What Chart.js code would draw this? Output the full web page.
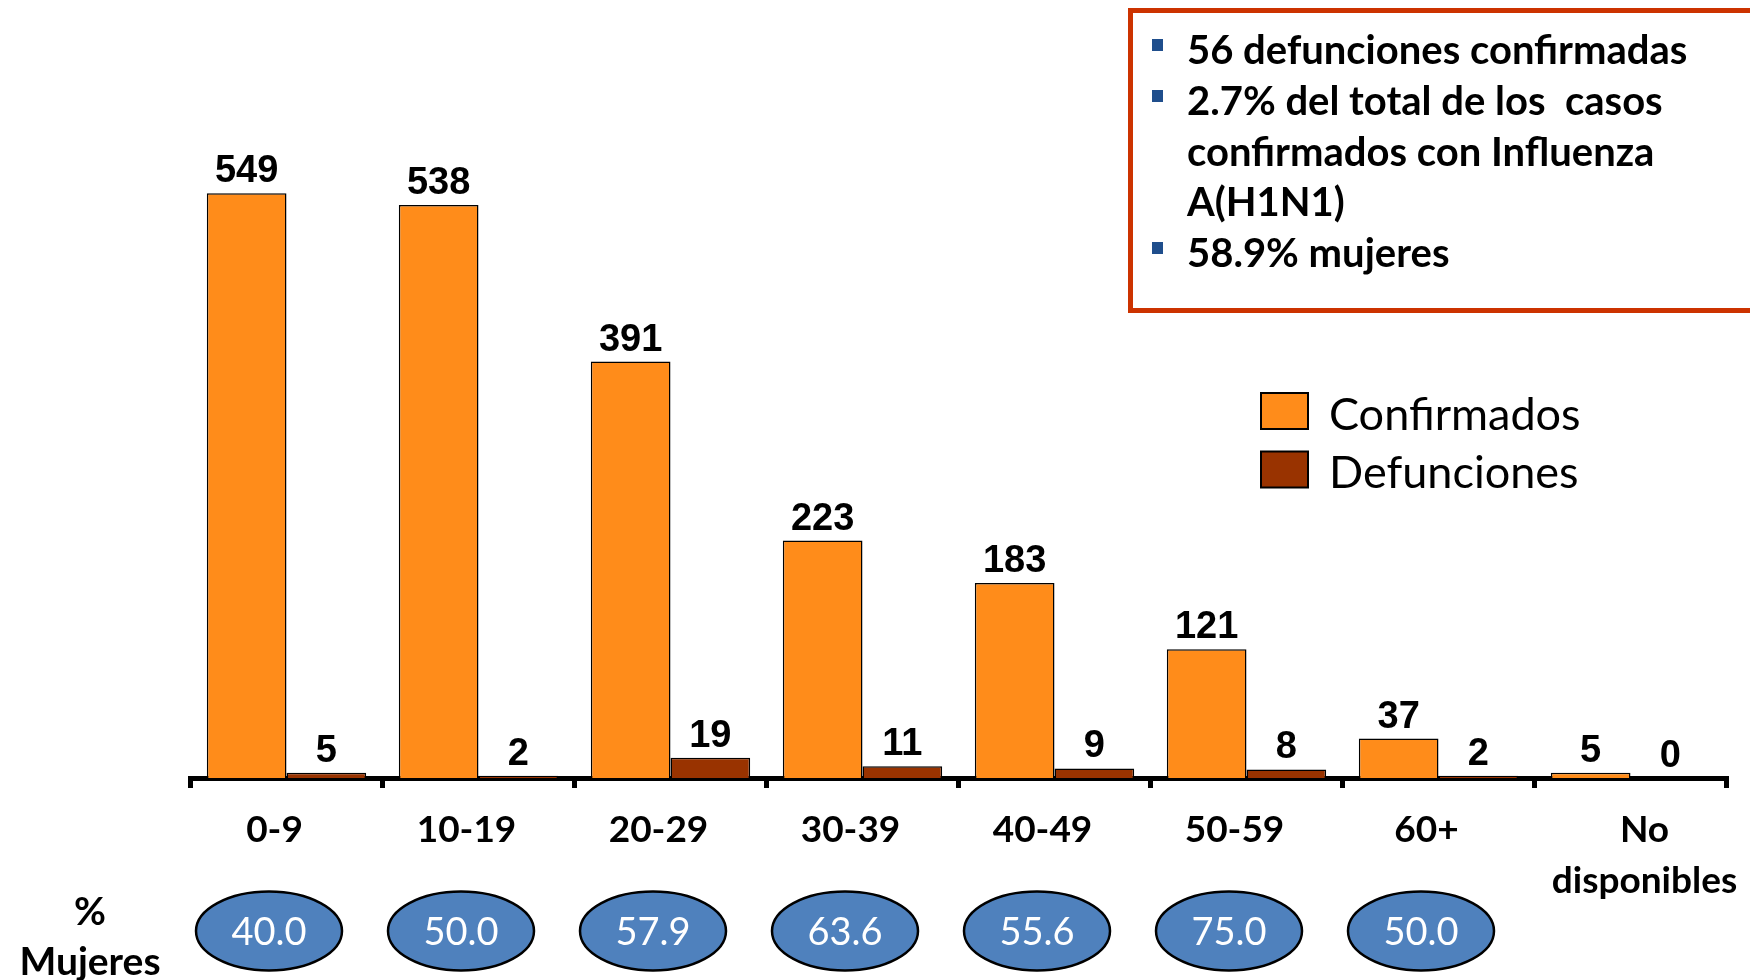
<!DOCTYPE html>
<html>
<head>
<meta charset="utf-8">
<script src="https://cdn.jsdelivr.net/npm/chart.js@4.4.1/dist/chart.umd.min.js"></script>
<style>
  html, body { margin: 0; padding: 0; background: #fff; }
  #wrap { position: relative; width: 1750px; height: 980px; overflow: hidden; background: #fff; }
  #grafico { position: absolute; left: 0; top: 0; }
  #info {
    position: absolute; left: 1128px; top: 8px; width: 700px; height: 295px;
    border: 5px solid #CC3300; box-sizing: content-box;
    font-family: Lato, sans-serif; font-weight: bold; font-size: 40px; color: #000;
  }
  #info .line { position: absolute; left: 54px; white-space: pre; line-height: 50px; }
  #info .bullet { position: absolute; left: 19px; width: 11px; height: 12px; background: #1F4E8C; }
  #mujeres {
    position: absolute; left: 0; top: 885px; width: 180px; text-align: center;
    font-family: Lato, sans-serif; font-weight: bold; font-size: 39px; line-height: 50px; color: #000;
  }
</style>
</head>
<body>
<div id="wrap">
  <canvas id="grafico" width="1750" height="980"></canvas>
  <div id="info"></div>
  <div id="mujeres">%<br>Mujeres</div>
</div>
<script>
// Datos por grupo de edad
const categorias = ['0-9', '10-19', '20-29', '30-39', '40-49', '50-59', '60+', ['No', 'disponibles']];
const confirmados = [549, 538, 391, 223, 183, 121, 37, 5];
const defunciones = [5, 2, 19, 11, 9, 8, 2, 0];
const pctMujeres = [40.0, 50.0, 57.9, 63.6, 55.6, 75.0, 50.0, null];

// Texto del recuadro
const notas = [
  ['56 defunciones confirmadas'],
  ['2.7% del total de los  casos', 'confirmados con Influenza', 'A(H1N1)'],
  ['58.9% mujeres']
];

// recuadro con viñetas (HTML)
const info = document.getElementById('info');
let linea = 0;
notas.forEach(nota => {
  nota.forEach((txt, j) => {
    const top = 11 + linea * 50.8;
    if (j === 0) {
      const b = document.createElement('div');
      b.className = 'bullet';
      b.style.top = (top + 15) + 'px';
      info.appendChild(b);
    }
    const d = document.createElement('div');
    d.className = 'line';
    d.style.top = top + 'px';
    d.textContent = txt;
    info.appendChild(d);
    linea++;
  });
});

// etiquetas de valor encima de cada barra
const etiquetas = {
  id: 'etiquetas',
  afterDatasetsDraw(chart) {
    const ctx = chart.ctx;
    ctx.save();
    ctx.font = 'bold 38px "Liberation Sans", Arial, sans-serif';
    ctx.fillStyle = '#000';
    ctx.textAlign = 'center';
    ctx.textBaseline = 'alphabetic';
    chart.data.datasets.forEach((ds, k) => {
      chart.getDatasetMeta(k).data.forEach((bar, i) => {
        ctx.fillText(String(ds.data[i]), bar.x, bar.y - 11);
      });
    });
    ctx.restore();
  }
};

// "No disponibles" va un poco a la derecha en el original
const ajusteEtiqueta = {
  id: 'ajusteEtiqueta',
  beforeDraw(chart) {
    const items = chart.scales.x.getLabelItems();
    const ult = items[items.length - 1];
    if (ult && !ult._movido) {
      ult.options.translation = [ult.options.translation[0] + 26, ult.options.translation[1]];
      ult._movido = true;
    }
  }
};

// óvalos con % de mujeres bajo cada categoría
const ovalos = {
  id: 'ovalos',
  afterDraw(chart) {
    const ctx = chart.ctx;
    const x = chart.scales.x;
    ctx.save();
    pctMujeres.forEach((p, i) => {
      if (p === null) return;
      const cx = x.getPixelForValue(i) - 17.5;
      const cy = 931;
      ctx.beginPath();
      ctx.ellipse(cx, cy, 73, 39.5, 0, 0, Math.PI * 2);
      ctx.fillStyle = '#4F81BD';
      ctx.fill();
      ctx.lineWidth = 2.5;
      ctx.strokeStyle = '#000';
      ctx.stroke();
      ctx.fillStyle = '#fff';
      ctx.font = '38px Lato, sans-serif';
      ctx.textAlign = 'center';
      ctx.textBaseline = 'middle';
      ctx.fillText(p.toFixed(1), cx, cy + 2);
    });
    ctx.restore();
  }
};

// leyenda a la derecha
const leyenda = {
  id: 'leyenda',
  afterDraw(chart) {
    const ctx = chart.ctx;
    ctx.save();
    chart.data.datasets.forEach((ds, k) => {
      const y = 393 + k * 58.5;
      ctx.fillStyle = ds.backgroundColor;
      ctx.fillRect(1261, y, 47, 36);
      ctx.lineWidth = 2;
      ctx.strokeStyle = '#000';
      ctx.strokeRect(1261, y, 47, 36);
      ctx.fillStyle = '#000';
      ctx.font = '45px Lato, sans-serif';
      ctx.textAlign = 'left';
      ctx.textBaseline = 'middle';
      ctx.fillText(ds.label, 1329, y + 22);
    });
    ctx.restore();
  }
};

const ctx = document.getElementById('grafico').getContext('2d');
new Chart(ctx, {
  type: 'bar',
  data: {
    labels: categorias,
    datasets: [
      {
        label: 'Confirmados',
        data: confirmados,
        backgroundColor: '#FF8C1A',
        borderColor: '#000',
        borderWidth: 1.5
      },
      {
        label: 'Defunciones',
        data: defunciones,
        backgroundColor: '#993300',
        borderColor: '#000',
        borderWidth: 1.5
      }
    ]
  },
  options: {
    responsive: false,
    animation: false,
    layout: { padding: { left: 190.5, right: 23.5, top: 32.5, bottom: 0 } },
    categoryPercentage: 0.83,
    barPercentage: 1.0,
    plugins: {
      legend: { display: false },
      tooltip: { enabled: false }
    },
    scales: {
      x: {
        grid: { offset: true, drawOnChartArea: false, drawTicks: true, tickLength: 10, lineWidth: 5, color: '#000' },
        border: { display: true, width: 5, color: '#000' },
        ticks: {
          color: '#000',
          font: { family: 'Lato', weight: 'bold', size: 37, lineHeight: 1.37 },
          padding: 17,
          labelOffset: -12,
          maxRotation: 0,
          autoSkip: false
        },
        afterFit: (scale) => { scale.height = 980 - 778; }
      },
      y: { display: false, min: 0, max: 700 }
    }
  },
  plugins: [etiquetas, ajusteEtiqueta, ovalos, leyenda]
});
</script>
</body>
</html>
